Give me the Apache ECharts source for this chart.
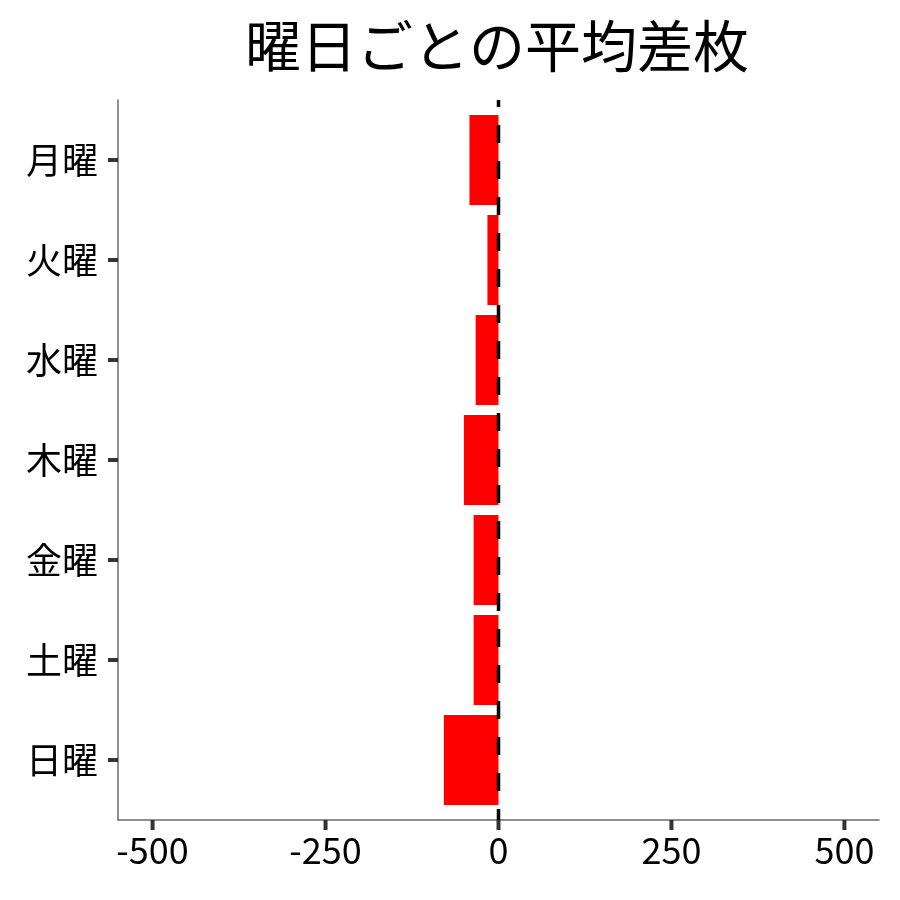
<!DOCTYPE html>
<html>
<head>
<meta charset="utf-8">
<script src="https://cdn.jsdelivr.net/npm/echarts@6/dist/echarts.min.js"></script>
<style>html,body{margin:0;padding:0;background:#fff}#c{width:900px;height:900px}</style>
</head>
<body>
<div id="c"></div>
<script>
const titleText = '曜日ごとの平均差枚';
const days = ['月曜', '火曜', '水曜', '木曜', '金曜', '土曜', '日曜'];
const avgDiff = [-42, -16, -33, -50, -36, -36, -79];
const xTicks = [-500, -250, 0, 250, 500];
const xRange = [-550, 550];
const refLineX = 0;

const FONT = '"Noto Sans CJK JP", "Noto Sans", sans-serif';
const chart = echarts.init(document.getElementById('c'), null, {renderer: 'canvas'});

// panel geometry
const L = 118, R = 21;
const BAR_TOP = 110, BAR_BOTTOM = 90;
const PANEL_TOP = 100, PANEL_BOTTOM = 80;
const axisLineStyle = {color: '#6b6b6b', width: 1.5};
const tickColor = '#333333';
const tickLen = 10, tickW = 4;

function yTickItem(params, api) {
  const p = api.coord([api.value(0), api.value(1)]);
  const y = Math.round(p[1]);
  return {type: 'rect', silent: true,
    shape: {x: p[0] - tickLen, y: y - tickW / 2, width: tickLen, height: tickW},
    style: {fill: tickColor}};
}

// x ticks: short vertical line segments in a thin strip grid under the axis line
const xTickSeries = xTicks.map(v => ({
  type: 'line', xAxisIndex: 2, yAxisIndex: 2, data: [[v, 0], [v, 1]],
  symbol: 'none', silent: true, clip: false, z: 10,
  lineStyle: {color: tickColor, width: tickW, cap: 'butt'}
}));

chart.setOption({
  animation: false,
  backgroundColor: '#ffffff',
  title: {
    text: titleText,
    left: 497, top: 46, padding: 0,
    textAlign: 'center', textVerticalAlign: 'middle',
    textStyle: {fontFamily: FONT, fontSize: 56, fontWeight: 'normal', color: '#000'}
  },
  grid: [
    {left: L, right: R, top: BAR_TOP, bottom: BAR_BOTTOM},
    {left: L, right: R, top: PANEL_TOP, bottom: PANEL_BOTTOM},
    {left: L, right: R, top: 900 - PANEL_BOTTOM, bottom: PANEL_BOTTOM - tickLen}
  ],
  xAxis: [
    {gridIndex: 0, type: 'value', min: xRange[0], max: xRange[1], show: false},
    {gridIndex: 1, type: 'value', min: xRange[0], max: xRange[1],
      axisLine: {show: true, onZero: false, lineStyle: axisLineStyle},
      axisTick: {show: false},
      axisLabel: {show: true, customValues: xTicks, margin: 12, fontFamily: FONT, fontSize: 36, color: '#000'},
      splitLine: {show: false}},
    {gridIndex: 2, type: 'value', min: xRange[0], max: xRange[1], show: false}
  ],
  yAxis: [
    {gridIndex: 0, type: 'category', data: days, inverse: true,
      axisLine: {show: false},
      axisTick: {show: false},
      axisLabel: {margin: 20, fontFamily: FONT, fontSize: 36, color: '#000'},
      splitLine: {show: false}},
    {gridIndex: 1, type: 'value', min: 0, max: 1,
      axisLine: {show: true, onZero: false, lineStyle: axisLineStyle},
      axisTick: {show: false}, axisLabel: {show: false}, splitLine: {show: false}},
    {gridIndex: 2, type: 'value', min: 0, max: 1, show: false}
  ],
  series: [
    {type: 'bar', xAxisIndex: 0, yAxisIndex: 0, data: avgDiff, barWidth: '90%',
      itemStyle: {color: '#ff0000'}, z: 2},
    {type: 'line', xAxisIndex: 1, yAxisIndex: 1, data: [[refLineX, 1], [refLineX, 0]],
      symbol: 'none', z: 5, silent: true,
      lineStyle: {color: '#000', width: 3.5, type: [18, 18], dashOffset: 11}},
    {type: 'custom', xAxisIndex: 0, yAxisIndex: 0, data: days.map(d => [xRange[0], d]),
      renderItem: yTickItem, clip: false, silent: true, z: 10}
  ].concat(xTickSeries)
});
</script>
</body>
</html>
